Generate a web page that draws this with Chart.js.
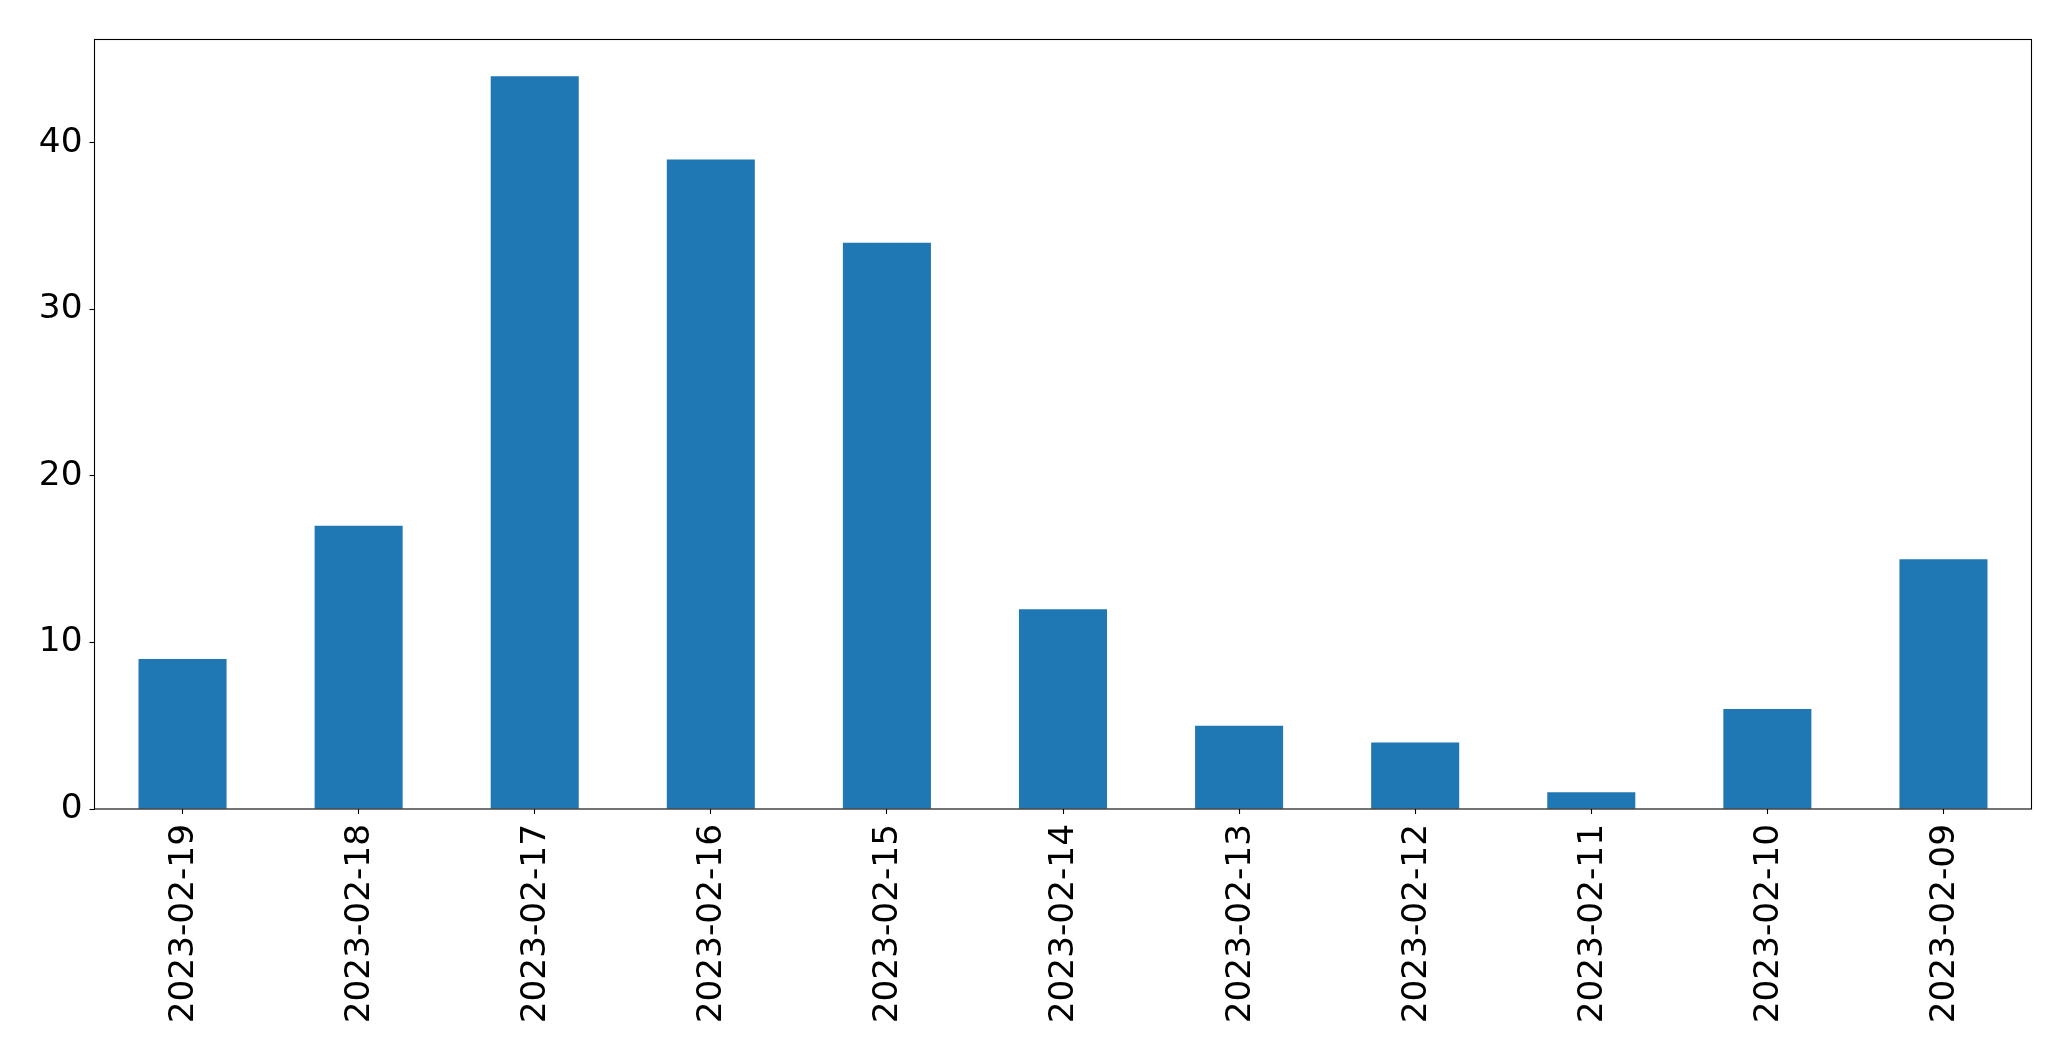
<!DOCTYPE html>
<html>
<head>
<meta charset="utf-8">
<script src="https://cdn.jsdelivr.net/npm/chart.js@4"></script>
<style>
  body { margin: 0; background: #fff; }
</style>
</head>
<body>
<canvas id="myChart" width="2071" height="1061"></canvas>
<script>
const dates = ['2023-02-19', '2023-02-18', '2023-02-17', '2023-02-16', '2023-02-15', '2023-02-14',
  '2023-02-13', '2023-02-12', '2023-02-11', '2023-02-10', '2023-02-09'];
const counts = [9, 17, 44, 39, 34, 12, 5, 4, 1, 6, 15];
const yTicks = [0, 10, 20, 30, 40];

const tickFont = { family: 'DejaVu Sans', size: 34.3 };

// draw the black box round the plot like matplotlib does
const frame = {
  id: 'frame',
  afterDraw(chart) {
    const { ctx, chartArea: a } = chart;
    ctx.save();
    ctx.strokeStyle = '#000';
    ctx.lineWidth = 1.1;
    ctx.strokeRect(a.left, a.top, a.right - a.left, a.bottom - a.top);
    ctx.restore();
  },
};

const ctx = document.getElementById('myChart').getContext('2d');
const myChart = new Chart(ctx, {
  type: 'bar',
  data: {
    labels: dates,
    datasets: [
      {
        data: counts,
        backgroundColor: '#1f77b4',
        borderWidth: 0,
        categoryPercentage: 1.0,
        barPercentage: 0.5,
      },
    ],
  },
  options: {
    responsive: false,
    animation: false,
    layout: {
      padding: { top: 39.5, right: 39.5, left: 0, bottom: 0 },
    },
    scales: {
      x: {
        afterFit: (scale) => { scale.height = 252; },
        border: { display: false },
        grid: {
          offset: false,
          drawOnChartArea: false,
          tickLength: 5,
          tickColor: '#000',
          tickWidth: 1.1,
        },
        ticks: {
          color: '#000',
          font: tickFont,
          minRotation: 90,
          maxRotation: 90,
          padding: 10,
          labelOffset: 1.5,
          autoSkip: false,
        },
      },
      y: {
        min: 0,
        max: 46.2,
        afterFit: (scale) => { scale.width = 94.5; },
        afterBuildTicks: (scale) => {
          scale.ticks = yTicks.map((v) => ({ value: v }));
        },
        border: { display: false },
        grid: {
          drawOnChartArea: false,
          tickLength: 5,
          tickColor: '#000',
          tickWidth: 1.1,
        },
        ticks: {
          color: '#000',
          font: tickFont,
          padding: 7,
        },
      },
    },
    plugins: {
      legend: { display: false },
      tooltip: { enabled: false },
    },
  },
  plugins: [frame],
});
</script>
</body>
</html>
